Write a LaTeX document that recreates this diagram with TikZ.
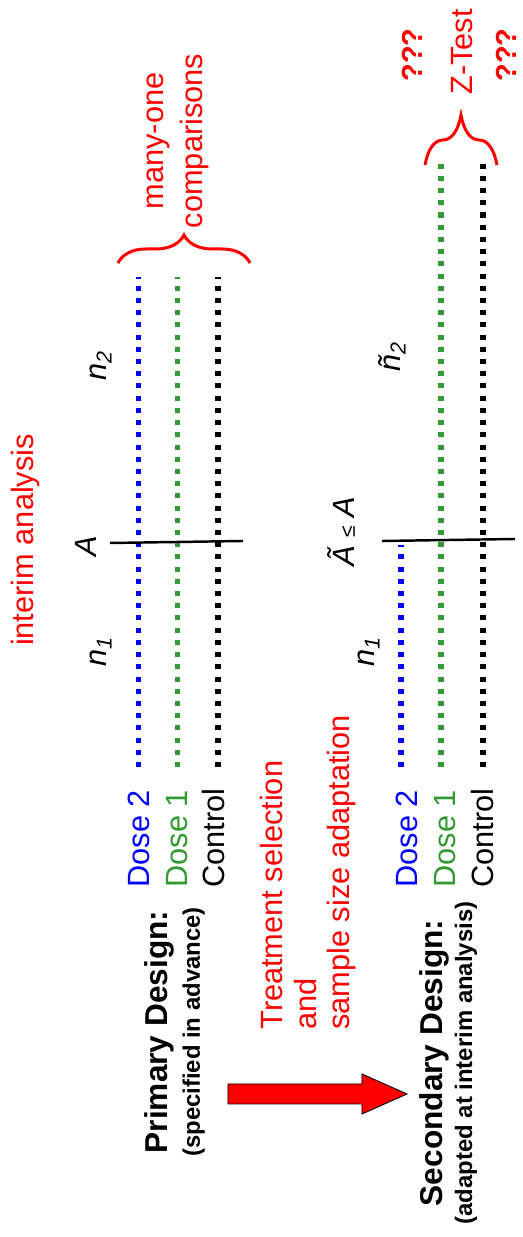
\documentclass[tikz,border=0pt]{standalone}
\usepackage{fontspec}
\setmainfont{Liberation Sans}
\usepackage{xcolor}
\usepackage{tikz}
\usetikzlibrary{decorations.pathreplacing}
\definecolor{dosegreen}{RGB}{51,153,51}

\begin{document}
\begin{tikzpicture}[x=0.02cm,y=0.02cm,rotate=90,transform shape,
      lbl/.style={inner sep=0pt,font=\fontsize{17.5}{21}\selectfont},
      sym/.style={inner sep=0pt,font=\fontsize{17.5}{21}\selectfont\itshape},
      ttl/.style={inner sep=0pt,font=\fontsize{18}{21}\selectfont\bfseries},
      sub/.style={inner sep=0pt,font=\fontsize{13.6}{16}\selectfont\bfseries},
      qq/.style={inner sep=0pt,red,font=\fontsize{16.5}{19}\selectfont\bfseries},
      arm/.style={line width=2.85pt,dash pattern=on 2.85pt off 4.1pt},
      cut/.style={line width=1.4pt},
      brc/.style={red,line width=1.7pt,decorate,decoration={brace,amplitude=#1}}]
    \useasboundingbox (0,0) rectangle (1237,523);
    % design titles
    \node[ttl,anchor=base] (prim)    at (205,355) {Primary Design:};
    \node[sub,anchor=base] (primsub) at (205,323) {(specified in advance)};
    \node[ttl,anchor=base] (sec)     at (174,80)  {Secondary Design:};
    \node[sub,anchor=base] (secsub)  at (174,51)  {(adapted at interim analysis)};
    \filldraw[fill=red,draw=black,line width=0.5pt]
      (133,295) -- (153,295) -- (153,161) -- (163,161) -- (143,116)
      -- (123,161) -- (133,161) -- cycle;
    \node[lbl,red,anchor=base west] (ts1) at (207,240) {Treatment selection};
    \node[lbl,red,anchor=base west] (ts2) at (207,206) {and};
    \node[lbl,red,anchor=base west] (ts3) at (207,173) {sample size adaptation};
    % arms
    \node[lbl,blue,anchor=base west]      (pd2) at (349,373)   {Dose 2};
    \node[lbl,dosegreen,anchor=base west] (pd1) at (349,335.5) {Dose 1};
    \node[lbl,anchor=base west]           (pc)  at (349,298)   {Control};
    \node[lbl,blue,anchor=base west]      (sd2) at (349,105)   {Dose 2};
    \node[lbl,dosegreen,anchor=base west] (sd1) at (349,68)    {Dose 1};
    \node[lbl,anchor=base west]           (sc)  at (349,30)    {Control};
    \foreach \y/\c in {384/blue,345/dosegreen,305/black}
      \draw[arm,\c] (470,\y) -- (960,\y);
    \draw[arm,blue]      (470,122) -- (692,122);
    \draw[arm,dosegreen] (470,82)  -- (1080,82);
    \draw[arm,black]     (470,40)  -- (1080,40);
    % interim analysis
    \node[lbl,red,anchor=base] (ia) at (697,489) {interim analysis};
    \draw[cut] (694,413) -- (696,280);
    \draw[cut] (696,141) -- (698,8);
    \node[sym,anchor=base] (a1)  at (691,426) {A};
    \node[sym,anchor=base] (n1a) at (585,416) {n\textsubscript{1}};
    \node[sym,anchor=base] (n2a) at (871,416) {n\textsubscript{2}};
    \node[sym,anchor=base] (a2)  at (705,168) {\~A {\upshape\fontsize{12}{12}\selectfont ≤} A};
    \node[sym,anchor=base] (n1b) at (585,148) {n\textsubscript{1}};
    \node[sym,anchor=base] (n2b) at (880,122) {ñ\textsubscript{2}};
    % final tests
    \draw[brc=0.56cm] (974,405) -- (974,273);
    \node[lbl,red,anchor=base] (mo1) at (1096,359) {many-one};
    \node[lbl,red,anchor=base] (mo2) at (1096,320) {comparisons};
    \draw[brc=1cm] (1072,98) -- (1072,26);
    \node[lbl,red,anchor=base] (zt) at (1185,51)  {Z-Test};
    \node[qq,anchor=base]      (q1) at (1182,100) {???};
    \node[qq,anchor=base]      (q2) at (1182,7)   {???};
  \end{tikzpicture}
\end{document}
